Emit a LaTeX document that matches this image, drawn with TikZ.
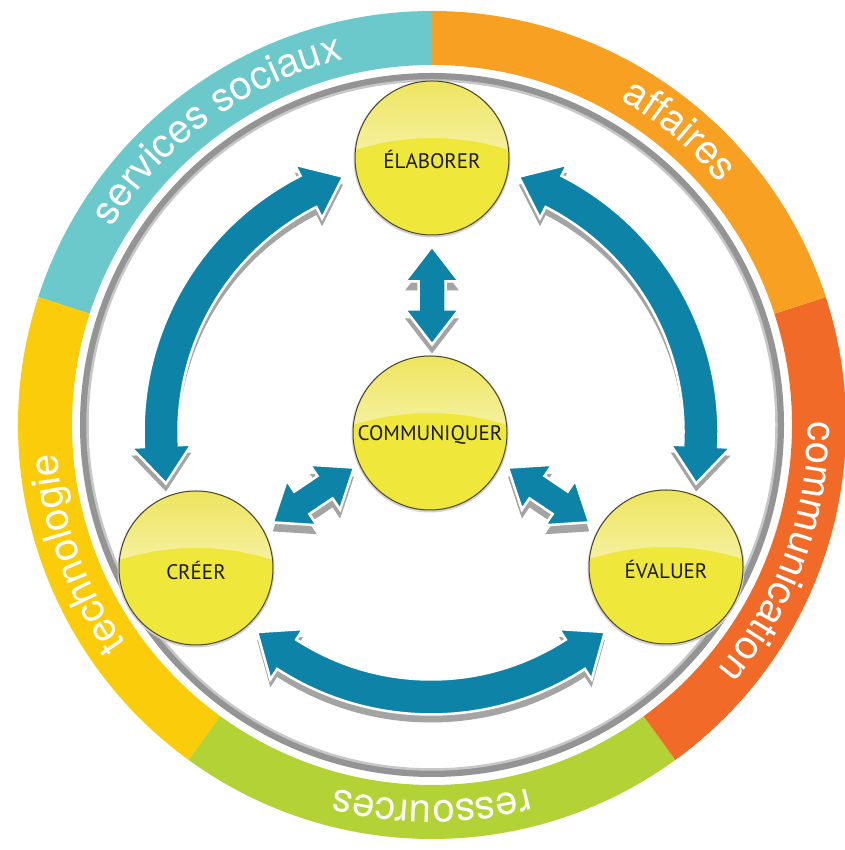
\documentclass[tikz,border=0pt]{standalone}
\usepackage{fontspec}
\setmainfont{PT Sans}
\newfontfamily\ringfamily{TeX Gyre Heros}
\usetikzlibrary{decorations.text}

\definecolor{ringTeal}{HTML}{6CC9CB}
\definecolor{ringOrange}{HTML}{F7A021}
\definecolor{ringRed}{HTML}{F16A27}
\definecolor{ringGreen}{HTML}{B2D235}
\definecolor{ringYellow}{HTML}{FBCC0A}
\definecolor{arrowBlue}{HTML}{0C83A7}
\definecolor{arrowShadow}{HTML}{A4A4A4}
\definecolor{ballYellow}{HTML}{EFE83B}
\definecolor{capTop}{HTML}{EDE45A}
\definecolor{capBottom}{HTML}{F6F2A6}
\definecolor{ballRim}{HTML}{4A4828}
\definecolor{ballText}{HTML}{1A1A1A}

% annular sector of the outer ring
\newcommand\RingSegment[3]{%
  \fill[#3] (#1:414) arc[start angle=#1, end angle=#2, radius=414]
    -- (#2:360) arc[start angle=#2, end angle=#1, radius=360] -- cycle;}

% label written clockwise along the ring, centred on angle #1
\newcommand\RingLabel[2]{%
  \path[decorate, decoration={text along path, text align=center,
      text={|\ringfamily\fontsize{40}{40}\selectfont\color{white}|#2}}]
    ({#1+36}:376) arc[start angle={#1+36}, end angle={#1-36}, radius=376];}

% curved double arrow around the centre: #1 middle angle, #2 radius
\newcommand\LoopArrowPath[2]{%
  ({#1+41}:#2) -- ({#1+33}:{#2+30}) -- ({#1+33}:{#2+17.5})
  arc[start angle={#1+33}, end angle={#1-33}, radius={#2+17.5}]
  -- ({#1-33}:{#2+30}) -- ({#1-41}:#2) -- ({#1-33}:{#2-30}) -- ({#1-33}:{#2-17.5})
  arc[start angle={#1-33}, end angle={#1+33}, radius={#2-17.5}]
  -- ({#1+33}:{#2-30}) -- cycle}

\newcommand\LoopArrow[2]{%
  \fill[arrowShadow, shift={(0,-8)}] \LoopArrowPath{#1}{#2};
  \filldraw[fill=arrowBlue, draw=white, line width=2.5] \LoopArrowPath{#1}{#2};}

% short straight double arrow
\newcommand\DuoArrowPath{(-49,0) -- (-14,27) -- (-14,13.5) -- (14,13.5) -- (14,27)
  -- (49,0) -- (14,-27) -- (14,-13.5) -- (-14,-13.5) -- (-14,-27) -- cycle}

\newcommand\DuoArrow[3]{%
  \fill[arrowShadow, shift={(#1,{#2-9})}, rotate=#3] \DuoArrowPath;
  \filldraw[fill=arrowBlue, draw=white, line width=2.5, shift={(#1,#2)}, rotate=#3] \DuoArrowPath;}

% glossy yellow ball with its caption
\newcommand\Ball[4]{%
  \fill[black!18] (#2,{#3-1}) circle[radius=78.5];
  \node[ballnode] (#1) at (#2,#3) {};
  \shade[top color=capTop, bottom color=capBottom]
    (#2,#3) ++(6.06:77) arc[start angle=6.06, end angle=173.94, radius=77]
    arc[start angle=107.62, end angle=72.38, radius=253] -- cycle;
  \draw[ballRim, line width=1] (#1.center) circle[radius=77];
  \node[balltext] at ([yshift=-2]#1.center) {#4};}

\begin{document}
\begin{tikzpicture}[x=1pt, y=1pt,
  ballnode/.style={circle, minimum size=154, inner sep=0pt, fill=ballYellow},
  balltext/.style={font=\fontsize{21}{21}\selectfont, text=ballText, inner sep=0pt}]
\useasboundingbox (0,0) rectangle (844,850);
\fill[white] (0,0) rectangle (844,850);

% outer coloured ring and its thin grey companion
\begin{scope}[shift={(432,425)}]
  \RingSegment{90}{162}{ringTeal}
  \RingSegment{162}{234}{ringYellow}
  \RingSegment{234}{306}{ringGreen}
  \RingSegment{-54}{18}{ringRed}
  \RingSegment{18}{90}{ringOrange}
  \draw[black!42, line width=8] (0,0) circle[radius=348];
  \draw[black!22, line width=2.5] (0,0) circle[radius=344.5];
  \RingLabel{126}{services sociaux}
  \RingLabel{50}{affaires}
  \RingLabel{-20}{communication}
  \RingLabel{-90}{ressources}
  \RingLabel{200}{technologie}
\end{scope}

% cycle of curved arrows between the outer balls
\begin{scope}[shift={(431,418)}]
  \LoopArrow{150}{270}
  \LoopArrow{30}{270}
  \LoopArrow{270}{265}
\end{scope}

% links with the centre
\DuoArrow{432}{554.5}{90}
\DuoArrow{313.4}{355}{34}
\DuoArrow{548.6}{355}{-34}

% balls
\Ball{elab}{432}{692}{ÉLABORER}
\Ball{comm}{430}{417}{COMMUNIQUER}
\Ball{creer}{196}{282}{CRÉER}
\Ball{eval}{666}{283}{ÉVALUER}
\end{tikzpicture}
\end{document}
